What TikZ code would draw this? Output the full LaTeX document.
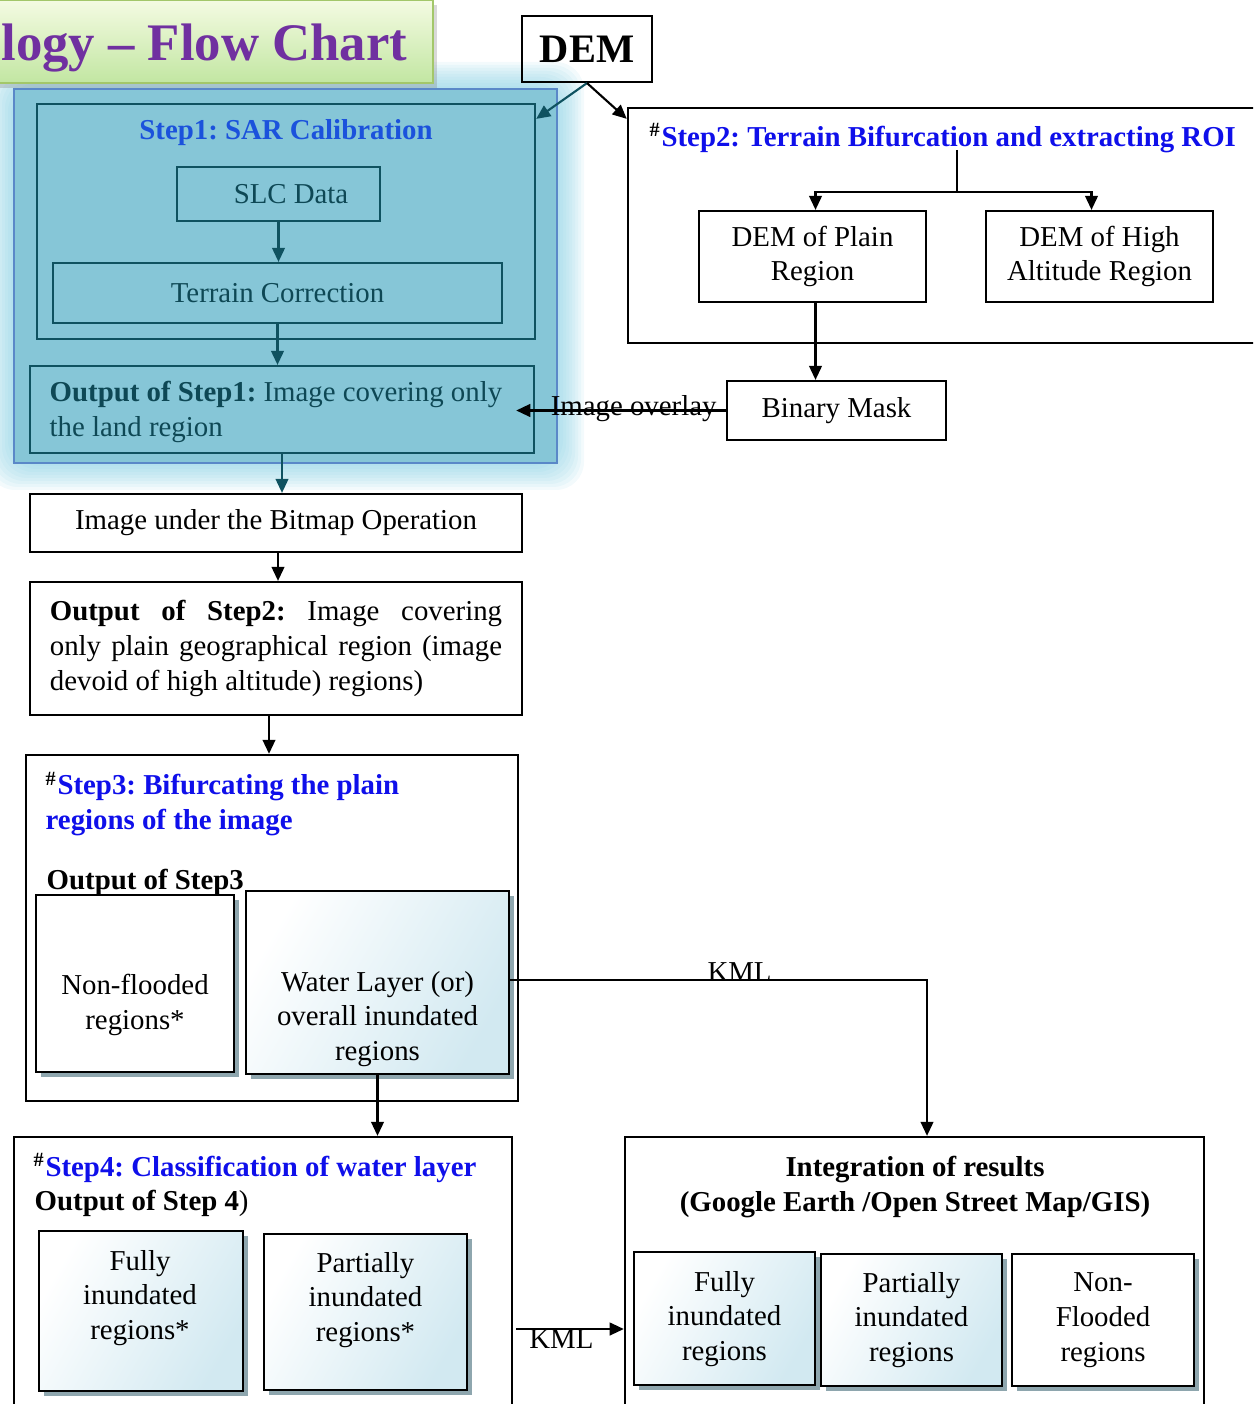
\documentclass[tikz,border=0pt]{standalone}
\usepackage{fontspec}
\setmainfont{Liberation Serif}
\usetikzlibrary{arrows.meta,shadows}

\definecolor{glowc}{HTML}{86CFE3}
\definecolor{panelfill}{HTML}{86C6D7}
\definecolor{panelline}{HTML}{5A88C8}
\definecolor{tealline}{HTML}{0F5260}
\definecolor{tealtext}{HTML}{0E4855}
\definecolor{sonecol}{HTML}{1B52DC}
\definecolor{stepblue}{HTML}{0F0FEA}
\definecolor{titlepurple}{HTML}{7030A0}
\definecolor{titletop}{HTML}{F4FBE2}
\definecolor{titlebot}{HTML}{C2E6A2}
\definecolor{titleline}{HTML}{A3C76A}
\definecolor{shadowc}{HTML}{8EA6AE}
\definecolor{waterc}{HTML}{D2E9F1}

\newcommand\bodyfs{\fontsize{8.2}{9.9}\selectfont}
\frenchspacing

\begin{document}
\begin{tikzpicture}[x=0.01cm,y=-0.01cm,
    box/.style={draw,line width=0.6pt,inner sep=0pt,font=\bodyfs},
    tealbox/.style={draw=tealline,line width=0.6pt,inner sep=0pt,font=\bodyfs,text=tealtext},
    shbox/.style={draw,line width=0.8pt,fill=white,inner sep=0pt,
        drop shadow={shadow xshift=1.5pt,shadow yshift=-1.5pt,fill=shadowc,opacity=1}},
    wbox/.style={shbox,left color=white,right color=waterc,shading angle=60},
    txt/.style={font=\bodyfs,inner sep=0pt,align=center},
    arr/.style={-{Triangle[length=4pt,width=3.6pt]},line width=0.6pt},
    tarr/.style={arr,draw=tealline}]

    \useasboundingbox (0,0) rectangle (1253,1404);
    \clip (0,0) rectangle (1253,1404);

    % glow round step 1
    \foreach \g in {3,6,...,27}
        \fill[glowc,opacity=0.1,rounded corners=8pt] ({14-\g},{89-\g}) rectangle ({557+\g},{463+\g});

    % title
    \draw[draw=titleline,line width=0.8pt,top color=titletop,bottom color=titlebot,
        drop shadow={shadow xshift=1pt,shadow yshift=-1.5pt,opacity=0.3}] (-20,0) rectangle (433,83);
    \node[anchor=east,inner sep=0pt,font=\fontsize{15}{17}\selectfont\bfseries,text=titlepurple] (title) at (408,48) {logy -- Flow Chart};

    \node[box,minimum width=1.30cm,minimum height=0.66cm,font=\fontsize{11.5}{13}\selectfont\bfseries] (dem) at (587,49) {DEM};

    % step 1
    \node[draw=panelline,fill=panelfill,line width=0.6pt,minimum width=5.43cm,minimum height=3.74cm] (panel) at (285.5,276) {};
    \node[tealbox,minimum width=4.98cm,minimum height=2.35cm] (sar) at (286,221.5) {};
    \node[txt,font=\bodyfs\bfseries,text=sonecol] (s1title) at (286,133) {Step1: SAR Calibration};
    \node[tealbox,minimum width=2.03cm,minimum height=0.54cm] (slc) at (278.5,194) {\hspace{0.25cm}SLC Data};
    \node[tealbox,minimum width=4.49cm,minimum height=0.60cm] (terrain) at (277.5,293) {Terrain Correction};
    \node[tealbox,minimum width=5.04cm,minimum height=0.87cm] (out1) at (282,409.5) {};
    \node[txt,anchor=west,align=left,text=tealtext] (out1txt) at (49,412)
        {\textbf{Output of Step1:} Image covering only\\the land region};

    % step 2
    \node[box,minimum width=6.47cm,minimum height=2.35cm] (step2) at (951.5,225.5) {};
    \node[txt,anchor=west,font=\bodyfs\bfseries,text=stepblue] (s2title) at (649,138)
        {\textcolor{black}{\textsuperscript{\#}}Step2: Terrain Bifurcation and extracting ROI};
    \node[box,minimum width=2.27cm,minimum height=0.91cm,align=center] (plain) at (812.5,256.5) {DEM of Plain\\Region};
    \node[box,minimum width=2.27cm,minimum height=0.91cm,align=center] (high) at (1099.5,256.5) {DEM of High\\Altitude Region};
    \node[box,minimum width=2.19cm,minimum height=0.59cm] (mask) at (836.5,410.5) {Binary Mask};

    \node[box,minimum width=4.92cm,minimum height=0.58cm] (bitmap) at (276,523) {Image under the Bitmap Operation};
    \node[box,minimum width=4.92cm,minimum height=1.33cm,text width=4.52cm,align=justify] (out2) at (276,648.5)
        {\textbf{Output of Step2:} Image covering\linebreak only plain geographical region (image\linebreak devoid of high altitude) regions)};

    % step 3
    \node[box,minimum width=4.92cm,minimum height=3.46cm] (step3) at (272,928) {};
    \node[txt,anchor=west,align=left,font=\bodyfs\bfseries,text=stepblue] (s3title) at (45,804)
        {\textcolor{black}{\textsuperscript{\#}}Step3: Bifurcating the plain\\regions of the image};
    \node[txt,anchor=west,font=\bodyfs\bfseries] (s3out) at (46,882) {Output of Step3};
    \node[shbox,minimum width=1.98cm,minimum height=1.77cm] (nonfl) at (135,983.5) {};
    \node[txt] (nonfltxt) at (135,1005) {Non-flooded\\regions*};
    \node[wbox,minimum width=2.63cm,minimum height=1.83cm] (water) at (377.5,982.5) {};
    \node[txt] (watertxt) at (377.5,1019) {Water Layer (or)\\overall inundated\\regions};

    % step 4
    \node[box,minimum width=4.98cm,minimum height=2.93cm] (step4) at (263,1283.5) {};
    \node[txt,anchor=west,font=\bodyfs\bfseries,text=stepblue] (s4title) at (33,1168)
        {\textcolor{black}{\textsuperscript{\#}}Step4: Classification of water layer};
    \node[txt,anchor=west] (s4out) at (34,1203) {\textbf{Output of Step 4})};
    \node[wbox,minimum width=2.04cm,minimum height=1.60cm] (fully4) at (141,1311) {};
    \node[txt] (fully4txt) at (140,1298) {Fully\\inundated\\regions*};
    \node[wbox,minimum width=2.03cm,minimum height=1.56cm] (part4) at (365.5,1312) {};
    \node[txt] (part4txt) at (365.5,1300) {Partially\\inundated\\regions*};

    % integration
    \node[box,minimum width=5.79cm,minimum height=2.93cm] (integ) at (914.5,1283.5) {};
    \node[txt,font=\bodyfs\bfseries] (integtitle) at (915,1187) {Integration of results\\(Google Earth /Open Street Map/GIS)};
    \node[wbox,minimum width=1.81cm,minimum height=1.33cm] (fullyI) at (724.5,1318.5) {};
    \node[txt] (fullyItxt) at (724.5,1319) {Fully\\inundated\\regions};
    \node[wbox,minimum width=1.81cm,minimum height=1.32cm] (partI) at (911.5,1320) {};
    \node[txt] (partItxt) at (911.5,1320) {Partially\\inundated\\regions};
    \node[shbox,minimum width=1.82cm,minimum height=1.32cm] (nonI) at (1103,1320) {};
    \node[txt] (nonItxt) at (1103,1320) {Non-\\Flooded\\regions};

    % connectors
    \draw[tarr] (dem.south) -- ([yshift=-0.16cm]sar.north east);
    \draw[arr] (dem.south) -- ([yshift=-0.12cm]step2.north west);
    \draw[tarr] (slc.south) -- (slc.south |- terrain.north);
    \draw[tarr] (terrain.south) -- (terrain.south |- out1.north);

    \coordinate (s2top) at (957,150);
    \coordinate (s2fork) at (957,192);
    \draw[line width=0.6pt] (s2top) -- (s2fork);
    \draw[arr] (s2fork) -| ([xshift=0.03cm]plain.north);
    \draw[arr] (s2fork) -| ([xshift=-0.08cm]high.north);
    \draw[arr] ([xshift=0.03cm]plain.south) -- ([xshift=0.03cm]plain.south |- mask.north);

    \draw[arr] (mask.west) -- ([xshift=-0.19cm]out1.east |- mask.west)
        node[pos=0.44,above=-3.5pt,font=\bodyfs,inner sep=0pt] (overlay) {Image overlay};

    \draw[tarr] (out1.south) -- (out1.south |- bitmap.north);
    \draw[arr] ([xshift=0.02cm]bitmap.south) -- ([xshift=0.02cm]bitmap.south |- out2.north);
    \draw[arr] ([xshift=-0.07cm]out2.south) -- ([xshift=-0.07cm]out2.south |- step3.north);

    \draw[arr] (water.south) -- (water.south |- step4.north);
    \draw[arr] ([yshift=0.025cm]water.east) -| ([xshift=0.125cm]integ.north)
        node[pos=0.275,above=-0.8pt,font=\bodyfs,inner sep=0pt] (kmlup) {KML};

    \coordinate (kmlpt) at (570,1329);
    \draw[arr] ([xshift=0.03cm]step4.east |- kmlpt) -- (integ.west |- kmlpt)
        node[pos=0.42,below=0pt,font=\bodyfs,inner sep=0pt] (kmldown) {KML};
\end{tikzpicture}
\end{document}
